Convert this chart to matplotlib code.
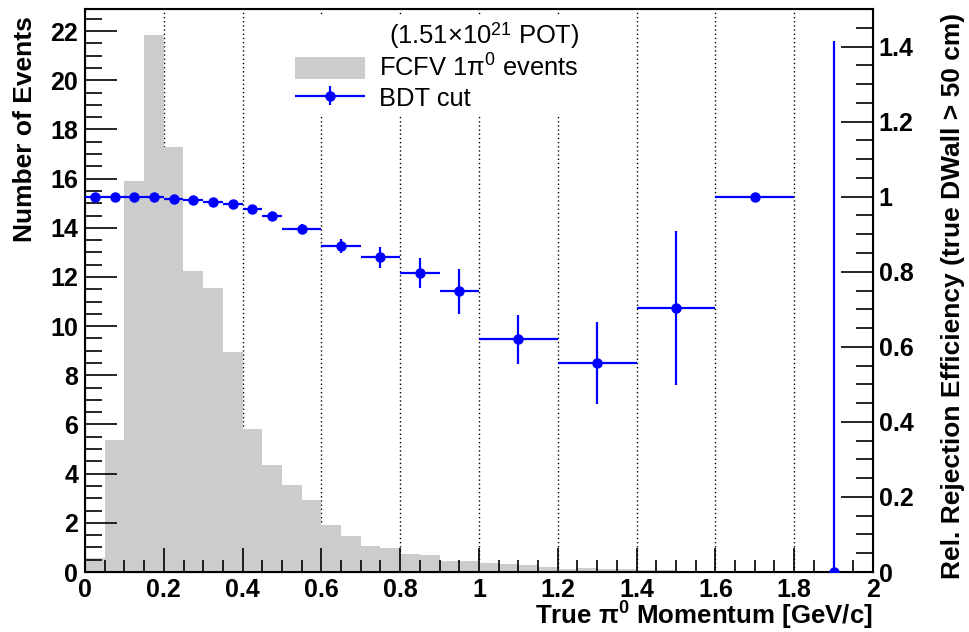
import numpy as np
import matplotlib
matplotlib.use("Agg")
import matplotlib.pyplot as plt
from matplotlib.patches import Patch
from matplotlib.ticker import MultipleLocator
from matplotlib.legend_handler import HandlerErrorbar
from matplotlib.container import ErrorbarContainer

plt.rcParams['font.family'] = ['Liberation Sans', 'DejaVu Sans']
plt.rcParams['mathtext.fontset'] = 'custom'
plt.rcParams['mathtext.rm'] = 'Liberation Sans'
plt.rcParams['mathtext.it'] = 'Liberation Serif'

# ---- data ----
bin_edges = np.round(np.arange(0, 2.0001, 0.05), 3)
fcfv_counts = [0.56, 5.35, 15.9, 21.83, 17.3, 12.24, 11.56, 8.96, 5.81, 4.35,
               3.52, 2.91, 1.90, 1.46, 1.07, 0.98, 0.72, 0.70, 0.43, 0.43,
               0.35, 0.34, 0.27, 0.22, 0.14, 0.18, 0.11, 0.11, 0.08, 0.08,
               0.06, 0.06, 0.04, 0.04, 0.03, 0.03, 0.02, 0.02, 0.01, 0.01]

bdt_x = [0.025, 0.075, 0.125, 0.175, 0.225, 0.275, 0.325, 0.375, 0.425, 0.475,
         0.55, 0.65, 0.75, 0.85, 0.95, 1.1, 1.3, 1.5, 1.7, 1.9]
bdt_xerr = [0.025] * 10 + [0.05] * 5 + [0.1] * 4 + [0.0]
bdt_eff = [1.0, 1.0, 0.998, 0.998, 0.993, 0.990, 0.985, 0.980, 0.968, 0.948,
           0.914, 0.868, 0.838, 0.796, 0.748, 0.620, 0.556, 0.703, 1.0, 0.0]
bdt_err = [0.002, 0.002, 0.002, 0.003, 0.003, 0.004, 0.005, 0.006, 0.008, 0.010,
           0.012, 0.019, 0.028, 0.040, 0.060, 0.066, 0.109, 0.205, 0.0, 1.414]

x_ticks = [0, 0.2, 0.4, 0.6, 0.8, 1.0, 1.2, 1.4, 1.6, 1.8, 2.0]
x_ticklabels = ['0', '0.2', '0.4', '0.6', '0.8', '1', '1.2', '1.4', '1.6', '1.8', '2']
r_ticks = [0, 0.2, 0.4, 0.6, 0.8, 1.0, 1.2, 1.4]
r_ticklabels = ['0', '0.2', '0.4', '0.6', '0.8', '1', '1.2', '1.4']

W, H = 970, 632
fig = plt.figure(figsize=(W / 100, H / 100), dpi=100)
L, R, T, B = 85, 873, 9, 572
ax = fig.add_axes([L / W, 1 - B / H, (R - L) / W, (B - T) / H])

TS = 18

ax.stairs(fcfv_counts, bin_edges, fill=True, color='#cccccc', lw=0, zorder=1)
ax.set_xlim(0, 2)
ax.set_ylim(0, 22.9)

for gx in x_ticks[1:-1]:
    ax.axvline(gx, color='black', ls=(0, (1, 2)), lw=1, zorder=0.5)

ax.xaxis.set_minor_locator(MultipleLocator(0.05))
ax.yaxis.set_major_locator(MultipleLocator(2))
ax.yaxis.set_minor_locator(MultipleLocator(0.5))
ax.tick_params(axis='x', which='major', direction='in', length=17, width=1.2,
               top=False, labelsize=TS, pad=4)
ax.tick_params(axis='x', which='minor', direction='in', length=9, width=1.2, top=False)
ax.tick_params(axis='y', which='major', direction='in', length=23, width=1.2,
               right=False, labelsize=TS, pad=5)
ax.tick_params(axis='y', which='minor', direction='in', length=12, width=1.2, right=False)
ax.set_xticks(x_ticks)
ax.set_xticklabels(x_ticklabels, fontweight='bold')
for lab in ax.get_yticklabels():
    lab.set_fontweight('bold')
for s in ax.spines.values():
    s.set_linewidth(1.5)

ax2 = ax.twinx()
ax2.set_ylim(0, 1.5)
ax2.yaxis.set_minor_locator(MultipleLocator(0.05))
ax2.tick_params(axis='y', which='major', direction='in', length=23, width=1.2,
                labelsize=TS, pad=4)
ax2.tick_params(axis='y', which='minor', direction='in', length=12, width=1.2)
ax2.set_yticks(r_ticks)
ax2.set_yticklabels(r_ticklabels, fontweight='bold')

eb = ax2.errorbar(bdt_x, bdt_eff, xerr=bdt_xerr, yerr=bdt_err, fmt='o', color='#0000ff',
                  ms=6.5, lw=1.6, elinewidth=1.6, capsize=0, zorder=3, clip_on=True)

ax.set_ylabel('Number of Events', fontsize=19, fontweight='bold', loc='top')
ax.yaxis.set_label_coords(-0.061, 0.988)
ax2.set_ylabel('Rel. Rejection Efficiency (true DWall > 50 cm)', fontsize=19,
               fontweight='bold', loc='top')
ax2.yaxis.set_label_coords(1.086, 0.993)
ax.set_xlabel(r'True $\mathregular{\pi^0}$ Momentum [GeV/c]', fontsize=18.6, fontweight='bold',
              loc='right')
ax.xaxis.set_label_coords(1.0, -0.05)
ax.xaxis.label.set_va('top')

handles = [Patch(facecolor='#cccccc', edgecolor='none'), eb]
labels = [r'FCFV 1$\mathregular{\pi^0}$ events', 'BDT cut']
leg = ax2.legend(handles, labels, title=r'(1.51$\times$10$^{21}$ POT)',
                 loc='upper left', bbox_to_anchor=(290 / W, 1 - 15 / H),
                 bbox_transform=fig.transFigure, frameon=True, fancybox=False,
                 edgecolor='none', facecolor='white', framealpha=1,
                 fontsize=18.4, title_fontsize=18.4, handlelength=2.75, handleheight=0.95,
                 handletextpad=0.55, borderpad=0.2, labelspacing=0.15, borderaxespad=0,
                 alignment='right',
                 handler_map={ErrorbarContainer: HandlerErrorbar(xerr_size=1.37, yerr_size=0.38)})
leg.set_zorder(10)

fig.savefig('out.png', dpi=100)
